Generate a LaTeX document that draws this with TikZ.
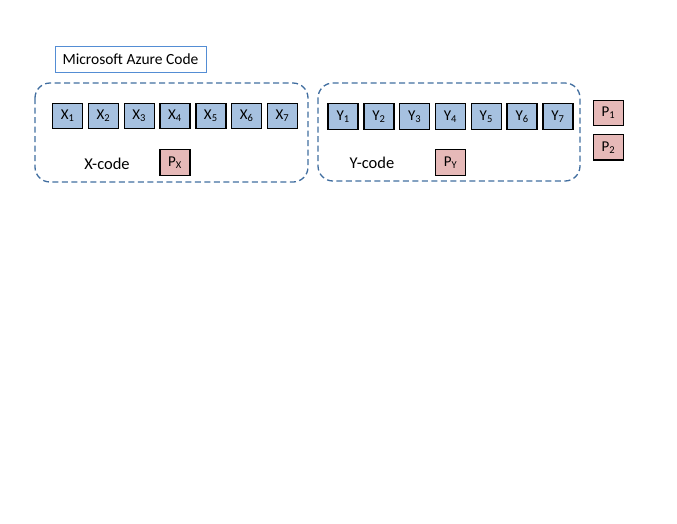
\documentclass[tikz,border=0pt]{standalone}
\usepackage{fontspec}
\setmainfont{Carlito}
\usepackage{xcolor}
\usetikzlibrary{matrix,positioning}
\definecolor{cellblue}{RGB}{166,193,224}
\definecolor{cellpink}{RGB}{230,185,184}
\definecolor{grpblue}{RGB}{65,110,160}
\definecolor{titleblue}{RGB}{84,141,212}
\tikzstyle{db}=[draw, line width=1.4pt, fill=cellblue, minimum width=30pt, minimum height=25.5pt, inner sep=0, font=\fontsize{15}{17}\selectfont]
\tikzstyle{pb}=[draw, line width=1.4pt, fill=cellpink, minimum width=30pt, minimum height=25.5pt, inner sep=0, font=\fontsize{15}{17}\selectfont]
\tikzstyle{se}=[ampersand replacement=\&, column sep=4.4pt, inner sep=0pt]
\tikzstyle{grp}=[draw=grpblue, line width=1.3pt, dash pattern=on 6pt off 3.5pt, rounded corners=15pt]
\tikzstyle{lbl}=[inner sep=0, font=\fontsize{16.5}{19}\selectfont]

\begin{document}
\begin{tikzpicture}
    \useasboundingbox (0,0) rectangle (677pt,-523pt);
    \node[draw=titleblue, line width=0.9pt, minimum width=151pt, minimum height=26pt, inner sep=0, font=\fontsize{15.5}{18}\selectfont] (title) at (130.5pt,-59pt) {Microsoft Azure Code};
    % X-code group
    \draw[grp] (35pt,-83pt) rectangle (308pt,-182pt);
    \matrix (xrow) [se] at (175pt,-116pt) {
        \node[db] (x1) {X\textsubscript{1}}; \& \node[db] (x2) {X\textsubscript{2}}; \& \node[db] (x3) {X\textsubscript{3}}; \& \node[db] (x4) {X\textsubscript{4}}; \& \node[db] (x5) {X\textsubscript{5}}; \& \node[db] (x6) {X\textsubscript{6}}; \& \node[db] (x7) {X\textsubscript{7}}; \\
    };
    \node[lbl] (xlbl) at (107pt,-163.5pt) {X-code};
    \node[pb] (px) at (175pt,-162.5pt) {P\textsubscript{X}};
    % Y-code group
    \draw[grp] (318pt,-83pt) rectangle (580pt,-181pt);
    \matrix (yrow) [se] at (450.5pt,-116.5pt) {
        \node[db] (y1) {Y\textsubscript{1}}; \& \node[db] (y2) {Y\textsubscript{2}}; \& \node[db] (y3) {Y\textsubscript{3}}; \& \node[db] (y4) {Y\textsubscript{4}}; \& \node[db] (y5) {Y\textsubscript{5}}; \& \node[db] (y6) {Y\textsubscript{6}}; \& \node[db] (y7) {Y\textsubscript{7}}; \\
    };
    \node[lbl] (ylbl) at (372pt,-163pt) {Y-code};
    \node[pb] (py) at (450.5pt,-162.5pt) {P\textsubscript{Y}};
    % global parities
    \node[pb] (p1) at (608.5pt,-113pt) {P\textsubscript{1}};
    \node[pb, below=7.5pt of p1] (p2) {P\textsubscript{2}};
\end{tikzpicture}
\end{document}
